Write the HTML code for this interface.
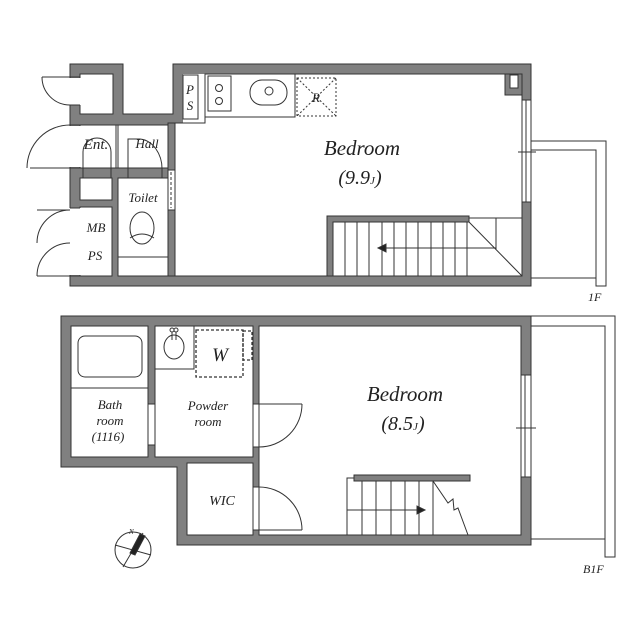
<!DOCTYPE html>
<html><head><meta charset="utf-8"><style>
html,body{margin:0;padding:0;background:#fff}
svg{display:block}
text{font-family:"Liberation Serif",serif;font-style:italic;fill:#222}
</style></head><body>
<svg width="640" height="640" viewBox="0 0 640 640" xmlns="http://www.w3.org/2000/svg">
<g stroke="#333" stroke-width="1">
<!-- 1F walls -->
<path d="M70,64H123V114H173V64H531V286H70Z" fill="#808080"/>
<g fill="#fff">
<rect x="80" y="74" width="33" height="40"/>
<rect x="80" y="125" width="88" height="43"/>
<rect x="80" y="178" width="32" height="22"/>
<rect x="80" y="207" width="32" height="69"/>
<rect x="118" y="178" width="50" height="98"/>
<path d="M175,123H183V74H522V276H175Z" stroke="none"/>
<path d="M175,276V123H205V74H522"/>
<rect x="183" y="75" width="15" height="44"/>
<rect x="205" y="74" width="90" height="43"/>
<rect x="208" y="76" width="23" height="35"/>
<rect x="250" y="80" width="37" height="25" rx="12"/>
</g>
<path d="M522,74V276H175" fill="none"/>
<!-- doors openings 1F -->
<rect x="69" y="78" width="12" height="27" fill="#fff" stroke="none"/>
<rect x="69" y="126" width="12" height="41" fill="#fff" stroke="none"/>
<rect x="69" y="208" width="12" height="67" fill="#fff" stroke="none"/>
<path d="M42,77H80M42,77A28,28 0 0 0 70,105" fill="none"/>
<path d="M30,168H80M70,125A43,43 0 0 0 27,168" fill="none"/>
<path d="M37,210H70M70,210A33,33 0 0 0 37,243M37,276H70M70,243A33,33 0 0 0 37,276" fill="none"/>
<path d="M70,105H80M70,125H80M70,168H80M70,208H80M70,276H80" fill="none"/>
<!-- Ent/Hall -->
<path d="M116,125V168M118,125V168" fill="none"/>
<path d="M83,178V152A14,14 0 0 1 111,152V178M128,178V139H140A24,30 0 0 1 162,170V178" fill="none"/>
<rect x="168" y="123" width="7" height="153" fill="#808080"/>
<rect x="168" y="170" width="7" height="40" fill="#fff"/>
<path d="M171,172V208" stroke-dasharray="3,2" fill="none"/>
<!-- toilet -->
<ellipse cx="142" cy="228" rx="12" ry="16" fill="#fff"/>
<path d="M130,238Q142,230 154,238M118,257H168" fill="none"/>
<!-- kitchen -->
<circle cx="219" cy="88" r="3.5" fill="#fff"/><circle cx="219" cy="101" r="3.5" fill="#fff"/>
<circle cx="269" cy="91" r="4" fill="#fff"/>
<g stroke-dasharray="2,2" fill="none"><rect x="297" y="78" width="39" height="38"/><path d="M297,78L336,116M336,78L297,116"/></g>
<!-- pillar -->
<path d="M505,74H522V95H505Z" fill="#808080"/>
<rect x="510" y="75" width="8" height="13" fill="#fff"/>
<!-- window 1F -->
<rect x="522" y="100" width="9" height="102" fill="#fff"/>
<path d="M526,100V202M518,152H536" fill="none"/>
<!-- balcony 1F -->
<path d="M531,141H606V286H596V150H531M531,278H596" fill="none"/>
<!-- stairs 1F -->
<path d="M327,216H469V222H333V276H327Z" fill="#808080"/>
<path d="M345,222V276M357,222V276M369,222V276M382,222V276M394,222V276M406,222V276M418,222V276M431,222V276M443,222V276M455,222V276M467,222V276M469,218H522M469,222L522,276M496,218V249M380,248H496" fill="none"/>
<path d="M378,248l8,-4v8z" fill="#222"/>

<!-- B1F -->
<path d="M61,316H531V545H177V467H61Z" fill="#808080"/>
<g fill="#fff">
<rect x="71" y="326" width="77" height="131"/>
<rect x="155" y="326" width="98" height="131"/>
<rect x="187" y="463" width="66" height="72"/>
<rect x="259" y="326" width="262" height="209"/>
<rect x="155" y="326" width="39" height="43"/>
<rect x="78" y="336" width="64" height="41" rx="7"/>
</g>
<path d="M71,388H148" fill="none"/>
<ellipse cx="174" cy="347" rx="10" ry="12" fill="#fff"/>
<path d="M172,332v8M176,332v8" fill="none"/>
<circle cx="172" cy="330" r="2" fill="#fff"/><circle cx="176" cy="330" r="2" fill="#fff"/>
<g stroke-dasharray="3,2" fill="none" stroke-width="1.3"><rect x="196" y="330" width="47" height="47"/><rect x="243" y="331" width="9" height="29"/></g>
<rect x="148" y="404" width="7" height="41" fill="#fff"/>
<!-- doors B1F -->
<rect x="253" y="404" width="6" height="43" fill="#fff"/>
<path d="M253,404H302M302,404A43,43 0 0 1 259,447" fill="none"/>
<rect x="253" y="487" width="6" height="43" fill="#fff"/>
<path d="M253,530H302M259,487A43,43 0 0 1 302,530" fill="none"/>
<!-- window B1F -->
<rect x="521" y="375" width="10" height="102" fill="#fff"/>
<path d="M525,375V477M516,428H536" fill="none"/>
<!-- balcony B1F -->
<path d="M531,316H615V557H605V326H531M531,539H605" fill="none"/>
<!-- stairs B1F -->
<rect x="354" y="475" width="116" height="6" fill="#808080"/>
<path d="M354,478H347V535M362,481V535M376,481V535M391,481V535M405,481V535M419,481V535M433,481V535M347,510H422M433,481L448,503L453,499L454,510L458,508L468,535" fill="none"/>
<path d="M425,510l-8,-4v8z" fill="#222"/>
<!-- compass -->
<circle cx="133" cy="550" r="18" fill="#fff"/>
<path d="M115,545L151,555M143,533L123,567" fill="none"/>
<path d="M140,534L145,536L135,555L130,553Z" fill="#222"/>
</g>
<text x="362" y="155" font-size="21" text-anchor="middle">Bedroom</text>
<text x="360" y="184" font-size="20" text-anchor="middle">(9.9<tspan font-size="11">J</tspan>)</text>
<text x="405" y="401" font-size="21" text-anchor="middle">Bedroom</text>
<text x="403" y="430" font-size="20" text-anchor="middle">(8.5<tspan font-size="11">J</tspan>)</text>
<text x="96" y="149" font-size="15" text-anchor="middle">Ent.</text>
<text x="147" y="148" font-size="13" text-anchor="middle">Hall</text>
<text x="143" y="202" font-size="13" text-anchor="middle">Toilet</text>
<text x="96" y="232" font-size="13" text-anchor="middle">MB</text>
<text x="95" y="260" font-size="13" text-anchor="middle">PS</text>
<text x="190" y="94" font-size="13" text-anchor="middle">P</text>
<text x="190" y="110" font-size="13" text-anchor="middle">S</text>
<text x="316" y="102" font-size="13" text-anchor="middle">R</text>
<text x="220" y="361" font-size="19" text-anchor="middle">W</text>
<text x="110" y="409" font-size="13" text-anchor="middle">Bath</text>
<text x="110" y="425" font-size="13" text-anchor="middle">room</text>
<text x="108" y="441" font-size="13" text-anchor="middle">(1116)</text>
<text x="208" y="410" font-size="13" text-anchor="middle">Powder</text>
<text x="208" y="426" font-size="13" text-anchor="middle">room</text>
<text x="222" y="505" font-size="14" text-anchor="middle">WIC</text>
<text x="129" y="534" font-size="7">N</text>
<text x="588" y="301" font-size="12">1F</text>
<text x="583" y="573" font-size="12">B1F</text>
</svg>
</body></html>
